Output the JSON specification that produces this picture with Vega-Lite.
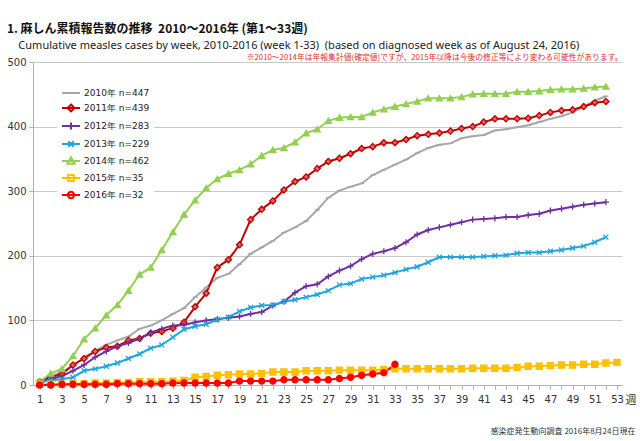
{
"$schema": "https://vega.github.io/schema/vega-lite/v6.json",
"width": 589, "height": 323,
"padding": {"left": 6, "top": 23, "right": 4, "bottom": 4},
"background": "white",
"title": {"text": "1. 麻しん累積報告数の推移\u00a0\u00a02010～2016年 (第1～33週)", "subtitle": "\u200B\u00a0\u00a0\u00a0\u00a0Cumulative measles cases by week, 2010-2016 (week 1-33)\u00a0\u00a0(based on diagnosed week as of August 24, 2016)", "anchor": "start", "frame": "bounds", "font": "Noto Sans CJK JP", "fontSize": 12, "fontWeight": "bold", "color": "#111", "subtitleFont": "Noto Sans", "subtitleFontSize": 11, "subtitleColor": "#222", "subtitlePadding": 4, "offset": 1},
"config": {"view": {"stroke": null}, "axis": {"domainColor": "#b0b0b0", "tickColor": "#b0b0b0", "labelFont": "DejaVu Sans", "labelFontSize": 10, "labelColor": "#333"}},
"datasets": {"d": [
{"year":"2010年 n=447","week":1,"cases":5},{"year":"2010年 n=447","week":2,"cases":14},{"year":"2010年 n=447","week":3,"cases":20},{"year":"2010年 n=447","week":4,"cases":30},{"year":"2010年 n=447","week":5,"cases":43},{"year":"2010年 n=447","week":6,"cases":53},{"year":"2010年 n=447","week":7,"cases":62},{"year":"2010年 n=447","week":8,"cases":69},{"year":"2010年 n=447","week":9,"cases":75},{"year":"2010年 n=447","week":10,"cases":87},{"year":"2010年 n=447","week":11,"cases":92},{"year":"2010年 n=447","week":12,"cases":100},{"year":"2010年 n=447","week":13,"cases":110},{"year":"2010年 n=447","week":14,"cases":119},{"year":"2010年 n=447","week":15,"cases":136},{"year":"2010年 n=447","week":16,"cases":151},{"year":"2010年 n=447","week":17,"cases":166},{"year":"2010年 n=447","week":18,"cases":172},{"year":"2010年 n=447","week":19,"cases":187},{"year":"2010年 n=447","week":20,"cases":203},{"year":"2010年 n=447","week":21,"cases":213},{"year":"2010年 n=447","week":22,"cases":223},{"year":"2010年 n=447","week":23,"cases":236},{"year":"2010年 n=447","week":24,"cases":244},{"year":"2010年 n=447","week":25,"cases":254},{"year":"2010年 n=447","week":26,"cases":271},{"year":"2010年 n=447","week":27,"cases":290},{"year":"2010年 n=447","week":28,"cases":301},{"year":"2010年 n=447","week":29,"cases":307},{"year":"2010年 n=447","week":30,"cases":312},{"year":"2010年 n=447","week":31,"cases":325},{"year":"2010年 n=447","week":32,"cases":333},{"year":"2010年 n=447","week":33,"cases":341},{"year":"2010年 n=447","week":34,"cases":349},{"year":"2010年 n=447","week":35,"cases":359},{"year":"2010年 n=447","week":36,"cases":367},{"year":"2010年 n=447","week":37,"cases":372},{"year":"2010年 n=447","week":38,"cases":374},{"year":"2010年 n=447","week":39,"cases":382},{"year":"2010年 n=447","week":40,"cases":385},{"year":"2010年 n=447","week":41,"cases":387},{"year":"2010年 n=447","week":42,"cases":394},{"year":"2010年 n=447","week":43,"cases":396},{"year":"2010年 n=447","week":44,"cases":399},{"year":"2010年 n=447","week":45,"cases":402},{"year":"2010年 n=447","week":46,"cases":407},{"year":"2010年 n=447","week":47,"cases":412},{"year":"2010年 n=447","week":48,"cases":416},{"year":"2010年 n=447","week":49,"cases":422},{"year":"2010年 n=447","week":50,"cases":431},{"year":"2010年 n=447","week":51,"cases":440},{"year":"2010年 n=447","week":52,"cases":447},
{"year":"2011年 n=439","week":1,"cases":5},{"year":"2011年 n=439","week":2,"cases":12},{"year":"2011年 n=439","week":3,"cases":17},{"year":"2011年 n=439","week":4,"cases":31},{"year":"2011年 n=439","week":5,"cases":41},{"year":"2011年 n=439","week":6,"cases":52},{"year":"2011年 n=439","week":7,"cases":58},{"year":"2011年 n=439","week":8,"cases":60},{"year":"2011年 n=439","week":9,"cases":69},{"year":"2011年 n=439","week":10,"cases":72},{"year":"2011年 n=439","week":11,"cases":80},{"year":"2011年 n=439","week":12,"cases":83},{"year":"2011年 n=439","week":13,"cases":88},{"year":"2011年 n=439","week":14,"cases":97},{"year":"2011年 n=439","week":15,"cases":121},{"year":"2011年 n=439","week":16,"cases":142},{"year":"2011年 n=439","week":17,"cases":182},{"year":"2011年 n=439","week":18,"cases":194},{"year":"2011年 n=439","week":19,"cases":217},{"year":"2011年 n=439","week":20,"cases":256},{"year":"2011年 n=439","week":21,"cases":272},{"year":"2011年 n=439","week":22,"cases":285},{"year":"2011年 n=439","week":23,"cases":302},{"year":"2011年 n=439","week":24,"cases":315},{"year":"2011年 n=439","week":25,"cases":322},{"year":"2011年 n=439","week":26,"cases":335},{"year":"2011年 n=439","week":27,"cases":346},{"year":"2011年 n=439","week":28,"cases":351},{"year":"2011年 n=439","week":29,"cases":358},{"year":"2011年 n=439","week":30,"cases":366},{"year":"2011年 n=439","week":31,"cases":369},{"year":"2011年 n=439","week":32,"cases":375},{"year":"2011年 n=439","week":33,"cases":375},{"year":"2011年 n=439","week":34,"cases":380},{"year":"2011年 n=439","week":35,"cases":386},{"year":"2011年 n=439","week":36,"cases":388},{"year":"2011年 n=439","week":37,"cases":390},{"year":"2011年 n=439","week":38,"cases":393},{"year":"2011年 n=439","week":39,"cases":397},{"year":"2011年 n=439","week":40,"cases":400},{"year":"2011年 n=439","week":41,"cases":407},{"year":"2011年 n=439","week":42,"cases":412},{"year":"2011年 n=439","week":43,"cases":412},{"year":"2011年 n=439","week":44,"cases":412},{"year":"2011年 n=439","week":45,"cases":413},{"year":"2011年 n=439","week":46,"cases":417},{"year":"2011年 n=439","week":47,"cases":422},{"year":"2011年 n=439","week":48,"cases":425},{"year":"2011年 n=439","week":49,"cases":426},{"year":"2011年 n=439","week":50,"cases":431},{"year":"2011年 n=439","week":51,"cases":437},{"year":"2011年 n=439","week":52,"cases":439},
{"year":"2012年 n=283","week":1,"cases":3},{"year":"2012年 n=283","week":2,"cases":9},{"year":"2012年 n=283","week":3,"cases":14},{"year":"2012年 n=283","week":4,"cases":22},{"year":"2012年 n=283","week":5,"cases":31},{"year":"2012年 n=283","week":6,"cases":43},{"year":"2012年 n=283","week":7,"cases":52},{"year":"2012年 n=283","week":8,"cases":60},{"year":"2012年 n=283","week":9,"cases":65},{"year":"2012年 n=283","week":10,"cases":72},{"year":"2012年 n=283","week":11,"cases":81},{"year":"2012年 n=283","week":12,"cases":87},{"year":"2012年 n=283","week":13,"cases":92},{"year":"2012年 n=283","week":14,"cases":93},{"year":"2012年 n=283","week":15,"cases":97},{"year":"2012年 n=283","week":16,"cases":100},{"year":"2012年 n=283","week":17,"cases":102},{"year":"2012年 n=283","week":18,"cases":104},{"year":"2012年 n=283","week":19,"cases":106},{"year":"2012年 n=283","week":20,"cases":110},{"year":"2012年 n=283","week":21,"cases":113},{"year":"2012年 n=283","week":22,"cases":123},{"year":"2012年 n=283","week":23,"cases":129},{"year":"2012年 n=283","week":24,"cases":143},{"year":"2012年 n=283","week":25,"cases":153},{"year":"2012年 n=283","week":26,"cases":156},{"year":"2012年 n=283","week":27,"cases":168},{"year":"2012年 n=283","week":28,"cases":177},{"year":"2012年 n=283","week":29,"cases":184},{"year":"2012年 n=283","week":30,"cases":195},{"year":"2012年 n=283","week":31,"cases":203},{"year":"2012年 n=283","week":32,"cases":207},{"year":"2012年 n=283","week":33,"cases":212},{"year":"2012年 n=283","week":34,"cases":221},{"year":"2012年 n=283","week":35,"cases":233},{"year":"2012年 n=283","week":36,"cases":240},{"year":"2012年 n=283","week":37,"cases":244},{"year":"2012年 n=283","week":38,"cases":248},{"year":"2012年 n=283","week":39,"cases":252},{"year":"2012年 n=283","week":40,"cases":256},{"year":"2012年 n=283","week":41,"cases":257},{"year":"2012年 n=283","week":42,"cases":258},{"year":"2012年 n=283","week":43,"cases":260},{"year":"2012年 n=283","week":44,"cases":260},{"year":"2012年 n=283","week":45,"cases":263},{"year":"2012年 n=283","week":46,"cases":265},{"year":"2012年 n=283","week":47,"cases":270},{"year":"2012年 n=283","week":48,"cases":273},{"year":"2012年 n=283","week":49,"cases":276},{"year":"2012年 n=283","week":50,"cases":279},{"year":"2012年 n=283","week":51,"cases":281},{"year":"2012年 n=283","week":52,"cases":283},
{"year":"2013年 n=229","week":1,"cases":5},{"year":"2013年 n=229","week":2,"cases":7},{"year":"2013年 n=229","week":3,"cases":9},{"year":"2013年 n=229","week":4,"cases":12},{"year":"2013年 n=229","week":5,"cases":22},{"year":"2013年 n=229","week":6,"cases":25},{"year":"2013年 n=229","week":7,"cases":29},{"year":"2013年 n=229","week":8,"cases":34},{"year":"2013年 n=229","week":9,"cases":41},{"year":"2013年 n=229","week":10,"cases":48},{"year":"2013年 n=229","week":11,"cases":57},{"year":"2013年 n=229","week":12,"cases":62},{"year":"2013年 n=229","week":13,"cases":74},{"year":"2013年 n=229","week":14,"cases":86},{"year":"2013年 n=229","week":15,"cases":91},{"year":"2013年 n=229","week":16,"cases":94},{"year":"2013年 n=229","week":17,"cases":101},{"year":"2013年 n=229","week":18,"cases":105},{"year":"2013年 n=229","week":19,"cases":114},{"year":"2013年 n=229","week":20,"cases":120},{"year":"2013年 n=229","week":21,"cases":123},{"year":"2013年 n=229","week":22,"cases":124},{"year":"2013年 n=229","week":23,"cases":129},{"year":"2013年 n=229","week":24,"cases":132},{"year":"2013年 n=229","week":25,"cases":136},{"year":"2013年 n=229","week":26,"cases":140},{"year":"2013年 n=229","week":27,"cases":146},{"year":"2013年 n=229","week":28,"cases":155},{"year":"2013年 n=229","week":29,"cases":157},{"year":"2013年 n=229","week":30,"cases":164},{"year":"2013年 n=229","week":31,"cases":167},{"year":"2013年 n=229","week":32,"cases":170},{"year":"2013年 n=229","week":33,"cases":174},{"year":"2013年 n=229","week":34,"cases":179},{"year":"2013年 n=229","week":35,"cases":183},{"year":"2013年 n=229","week":36,"cases":190},{"year":"2013年 n=229","week":37,"cases":198},{"year":"2013年 n=229","week":38,"cases":198},{"year":"2013年 n=229","week":39,"cases":198},{"year":"2013年 n=229","week":40,"cases":198},{"year":"2013年 n=229","week":41,"cases":199},{"year":"2013年 n=229","week":42,"cases":200},{"year":"2013年 n=229","week":43,"cases":201},{"year":"2013年 n=229","week":44,"cases":204},{"year":"2013年 n=229","week":45,"cases":205},{"year":"2013年 n=229","week":46,"cases":205},{"year":"2013年 n=229","week":47,"cases":207},{"year":"2013年 n=229","week":48,"cases":209},{"year":"2013年 n=229","week":49,"cases":212},{"year":"2013年 n=229","week":50,"cases":215},{"year":"2013年 n=229","week":51,"cases":221},{"year":"2013年 n=229","week":52,"cases":229},
{"year":"2014年 n=462","week":1,"cases":5},{"year":"2014年 n=462","week":2,"cases":18},{"year":"2014年 n=462","week":3,"cases":25},{"year":"2014年 n=462","week":4,"cases":45},{"year":"2014年 n=462","week":5,"cases":71},{"year":"2014年 n=462","week":6,"cases":88},{"year":"2014年 n=462","week":7,"cases":108},{"year":"2014年 n=462","week":8,"cases":124},{"year":"2014年 n=462","week":9,"cases":146},{"year":"2014年 n=462","week":10,"cases":171},{"year":"2014年 n=462","week":11,"cases":182},{"year":"2014年 n=462","week":12,"cases":209},{"year":"2014年 n=462","week":13,"cases":237},{"year":"2014年 n=462","week":14,"cases":264},{"year":"2014年 n=462","week":15,"cases":286},{"year":"2014年 n=462","week":16,"cases":305},{"year":"2014年 n=462","week":17,"cases":319},{"year":"2014年 n=462","week":18,"cases":327},{"year":"2014年 n=462","week":19,"cases":333},{"year":"2014年 n=462","week":20,"cases":342},{"year":"2014年 n=462","week":21,"cases":355},{"year":"2014年 n=462","week":22,"cases":364},{"year":"2014年 n=462","week":23,"cases":367},{"year":"2014年 n=462","week":24,"cases":376},{"year":"2014年 n=462","week":25,"cases":390},{"year":"2014年 n=462","week":26,"cases":396},{"year":"2014年 n=462","week":27,"cases":409},{"year":"2014年 n=462","week":28,"cases":414},{"year":"2014年 n=462","week":29,"cases":415},{"year":"2014年 n=462","week":30,"cases":415},{"year":"2014年 n=462","week":31,"cases":422},{"year":"2014年 n=462","week":32,"cases":427},{"year":"2014年 n=462","week":33,"cases":431},{"year":"2014年 n=462","week":34,"cases":435},{"year":"2014年 n=462","week":35,"cases":439},{"year":"2014年 n=462","week":36,"cases":444},{"year":"2014年 n=462","week":37,"cases":444},{"year":"2014年 n=462","week":38,"cases":444},{"year":"2014年 n=462","week":39,"cases":446},{"year":"2014年 n=462","week":40,"cases":450},{"year":"2014年 n=462","week":41,"cases":451},{"year":"2014年 n=462","week":42,"cases":451},{"year":"2014年 n=462","week":43,"cases":451},{"year":"2014年 n=462","week":44,"cases":454},{"year":"2014年 n=462","week":45,"cases":454},{"year":"2014年 n=462","week":46,"cases":455},{"year":"2014年 n=462","week":47,"cases":457},{"year":"2014年 n=462","week":48,"cases":458},{"year":"2014年 n=462","week":49,"cases":458},{"year":"2014年 n=462","week":50,"cases":459},{"year":"2014年 n=462","week":51,"cases":461},{"year":"2014年 n=462","week":52,"cases":462},
{"year":"2015年 n=35","week":1,"cases":1},{"year":"2015年 n=35","week":2,"cases":1},{"year":"2015年 n=35","week":3,"cases":1},{"year":"2015年 n=35","week":4,"cases":2},{"year":"2015年 n=35","week":5,"cases":2},{"year":"2015年 n=35","week":6,"cases":3},{"year":"2015年 n=35","week":7,"cases":3},{"year":"2015年 n=35","week":8,"cases":4},{"year":"2015年 n=35","week":9,"cases":4},{"year":"2015年 n=35","week":10,"cases":5},{"year":"2015年 n=35","week":11,"cases":5},{"year":"2015年 n=35","week":12,"cases":5},{"year":"2015年 n=35","week":13,"cases":6},{"year":"2015年 n=35","week":14,"cases":7},{"year":"2015年 n=35","week":15,"cases":12},{"year":"2015年 n=35","week":16,"cases":13},{"year":"2015年 n=35","week":17,"cases":15},{"year":"2015年 n=35","week":18,"cases":16},{"year":"2015年 n=35","week":19,"cases":17},{"year":"2015年 n=35","week":20,"cases":17},{"year":"2015年 n=35","week":21,"cases":18},{"year":"2015年 n=35","week":22,"cases":20},{"year":"2015年 n=35","week":23,"cases":20},{"year":"2015年 n=35","week":24,"cases":20},{"year":"2015年 n=35","week":25,"cases":22},{"year":"2015年 n=35","week":26,"cases":22},{"year":"2015年 n=35","week":27,"cases":22},{"year":"2015年 n=35","week":28,"cases":23},{"year":"2015年 n=35","week":29,"cases":23},{"year":"2015年 n=35","week":30,"cases":23},{"year":"2015年 n=35","week":31,"cases":23},{"year":"2015年 n=35","week":32,"cases":24},{"year":"2015年 n=35","week":33,"cases":25},{"year":"2015年 n=35","week":34,"cases":25},{"year":"2015年 n=35","week":35,"cases":25},{"year":"2015年 n=35","week":36,"cases":25},{"year":"2015年 n=35","week":37,"cases":25},{"year":"2015年 n=35","week":38,"cases":25},{"year":"2015年 n=35","week":39,"cases":25},{"year":"2015年 n=35","week":40,"cases":26},{"year":"2015年 n=35","week":41,"cases":26},{"year":"2015年 n=35","week":42,"cases":26},{"year":"2015年 n=35","week":43,"cases":26},{"year":"2015年 n=35","week":44,"cases":27},{"year":"2015年 n=35","week":45,"cases":29},{"year":"2015年 n=35","week":46,"cases":29},{"year":"2015年 n=35","week":47,"cases":30},{"year":"2015年 n=35","week":48,"cases":31},{"year":"2015年 n=35","week":49,"cases":31},{"year":"2015年 n=35","week":50,"cases":32},{"year":"2015年 n=35","week":51,"cases":32},{"year":"2015年 n=35","week":52,"cases":34},{"year":"2015年 n=35","week":53,"cases":35},
{"year":"2016年 n=32","week":1,"cases":0},{"year":"2016年 n=32","week":2,"cases":0},{"year":"2016年 n=32","week":3,"cases":1},{"year":"2016年 n=32","week":4,"cases":1},{"year":"2016年 n=32","week":5,"cases":1},{"year":"2016年 n=32","week":6,"cases":1},{"year":"2016年 n=32","week":7,"cases":1},{"year":"2016年 n=32","week":8,"cases":2},{"year":"2016年 n=32","week":9,"cases":2},{"year":"2016年 n=32","week":10,"cases":2},{"year":"2016年 n=32","week":11,"cases":2},{"year":"2016年 n=32","week":12,"cases":2},{"year":"2016年 n=32","week":13,"cases":3},{"year":"2016年 n=32","week":14,"cases":3},{"year":"2016年 n=32","week":15,"cases":3},{"year":"2016年 n=32","week":16,"cases":3},{"year":"2016年 n=32","week":17,"cases":3},{"year":"2016年 n=32","week":18,"cases":3},{"year":"2016年 n=32","week":19,"cases":6},{"year":"2016年 n=32","week":20,"cases":6},{"year":"2016年 n=32","week":21,"cases":6},{"year":"2016年 n=32","week":22,"cases":6},{"year":"2016年 n=32","week":23,"cases":8},{"year":"2016年 n=32","week":24,"cases":8},{"year":"2016年 n=32","week":25,"cases":8},{"year":"2016年 n=32","week":26,"cases":8},{"year":"2016年 n=32","week":27,"cases":8},{"year":"2016年 n=32","week":28,"cases":10},{"year":"2016年 n=32","week":29,"cases":12},{"year":"2016年 n=32","week":30,"cases":15},{"year":"2016年 n=32","week":31,"cases":17},{"year":"2016年 n=32","week":32,"cases":19},{"year":"2016年 n=32","week":33,"cases":32}
]},
"data": {"name": "d"},
"resolve": {"scale": {"color": "independent", "fill": "independent", "stroke": "independent", "shape": "independent"}, "axis": {"x": "independent"}},
"layer": [
{"mark": {"type": "line", "strokeWidth": 2},
 "encoding": {
  "x": {"field": "week", "type": "quantitative", "scale": {"domain": [0.4, 53.45], "nice": false, "zero": false},
        "axis": {"values": [1,2,3,4,5,6,7,8,9,10,11,12,13,14,15,16,17,18,19,20,21,22,23,24,25,26,27,28,29,30,31,32,33,34,35,36,37,38,39,40,41,42,43,44,45,46,47,48,49,50,51,52,53], "labelExpr": "datum.value % 2 == 1 ? datum.label : ''", "grid": false, "tickSize": 4, "labelPadding": 5, "labelFlush": false, "labelOverlap": false,
                 "title": "週", "titleFont": "Noto Sans CJK JP", "titleFontSize": 11, "titleFontWeight": "normal", "titleColor": "#333", "titleX": 592, "titleY": 15, "titleAlign": "left", "titleBaseline": "middle"}},
  "y": {"field": "cases", "type": "quantitative", "scale": {"domain": [0, 500], "nice": false},
        "axis": {"values": [0,50,100,150,200,250,300,350,400,450,500], "grid": true, "gridColor": "#c8c8c8", "tickSize": 4, "labelPadding": 3, "title": null}},
  "color": {"field": "year", "type": "nominal", "legend": null,
            "scale": {"domain": ["2010年 n=447","2011年 n=439","2012年 n=283","2013年 n=229","2014年 n=462","2015年 n=35","2016年 n=32"],
                      "range": ["#a6a6a6","#c00000","#7030a0","#1fa5e0","#92d050","#ffc000","#ff0000"]}}
 }},
{"mark": {"type": "point", "filled": true, "size": 38, "strokeWidth": 1.3, "opacity": 1},
 "encoding": {
  "x": {"field": "week", "type": "quantitative",
        "axis": {"orient": "top", "labels": false, "ticks": false, "domain": false, "grid": false,
                 "title": "※2010～2014年は年報集計値(確定値)ですが、2015年以降は今後の修正等により変わる可能性があります。", "titleFont": "Noto Sans CJK JP", "titleFontSize": 7.8, "titleFontWeight": "normal", "titleColor": "#e03030", "titleAnchor": "end", "titlePadding": 1}},
  "y": {"field": "cases", "type": "quantitative"},
  "fill": {"field": "year", "type": "nominal", "legend": null,
            "scale": {"domain": ["2010年 n=447","2011年 n=439","2012年 n=283","2013年 n=229","2014年 n=462","2015年 n=35","2016年 n=32"],
                      "range": ["#a6a6a6","#e86060","#7030a0","#1fa5e0","#92d050","#ffc000","#ff0000"]}},
  "stroke": {"field": "year", "type": "nominal", "legend": null,
            "scale": {"domain": ["2010年 n=447","2011年 n=439","2012年 n=283","2013年 n=229","2014年 n=462","2015年 n=35","2016年 n=32"],
                      "range": ["#a6a6a6","#c00000","#7030a0","#1fa5e0","#92d050","#ffc000","#ff0000"]}},
  "shape": {"field": "year", "type": "nominal", "legend": null,
            "scale": {"domain": ["2010年 n=447","2011年 n=439","2012年 n=283","2013年 n=229","2014年 n=462","2015年 n=35","2016年 n=32"],
                      "range": ["M-0.8,0H0.8","diamond","M-1,0H1M0,-1V1","M-0.8,-0.8L0.8,0.8M-0.8,0.8L0.8,-0.8","triangle-up","square","circle"]}}
 }},
{"mark": {"type": "point", "filled": true, "size": 36, "opacity": 0},
 "encoding": {
  "x": {"field": "week", "type": "quantitative",
        "axis": {"orient": "bottom", "labels": false, "ticks": false, "domain": false, "grid": false,
                 "title": "感染症発生動向調査 2016年8月24日現在", "titleFont": "Noto Sans CJK JP", "titleFontSize": 8, "titleFontWeight": "normal", "titleColor": "#333", "titleAnchor": "end", "titleAlign": "right", "titleX": 602, "titleY": 46, "titleBaseline": "middle"}},
  "y": {"field": "cases", "type": "quantitative"},
  "fill": {"field": "year", "type": "nominal",
            "scale": {"domain": ["2010年 n=447","2011年 n=439","2012年 n=283","2013年 n=229","2014年 n=462","2015年 n=35","2016年 n=32"],
                      "range": ["#a6a6a6","#e86060","#7030a0","#1fa5e0","#92d050","#ffc000","#ff0000"]},
            "legend": {"orient": "none", "legendX": 24, "legendY": 17, "title": null, "symbolSize": 324, "symbolStrokeWidth": 2, "symbolOpacity": 1, "labelFont": "DejaVu Sans", "labelFontSize": 9, "labelColor": "#222", "labelOffset": 3, "rowPadding": 0, "fillColor": "white", "padding": 4}},
  "stroke": {"field": "year", "type": "nominal",
            "scale": {"domain": ["2010年 n=447","2011年 n=439","2012年 n=283","2013年 n=229","2014年 n=462","2015年 n=35","2016年 n=32"],
                      "range": ["#a6a6a6","#c00000","#7030a0","#1fa5e0","#92d050","#ffc000","#ff0000"]}},
  "shape": {"field": "year", "type": "nominal",
            "scale": {"domain": ["2010年 n=447","2011年 n=439","2012年 n=283","2013年 n=229","2014年 n=462","2015年 n=35","2016年 n=32"],
                      "range": ["M-1,0H1","M-1,0H1M0,-0.38L0.38,0L0,0.38L-0.38,0Z","M-1,0H1M0,-0.38V0.38","M-1,0H1M-0.3,-0.3L0.3,0.3M-0.3,0.3L0.3,-0.3","M-1,0H1M0,-0.42L0.4,0.3H-0.4Z","M-1,0H1M-0.32,-0.32H0.32V0.32H-0.32Z","M-1,0H1M0.35,0A0.35,0.35 0 1,1 -0.35,0A0.35,0.35 0 1,1 0.35,0Z"]}}
 }}
]
}
